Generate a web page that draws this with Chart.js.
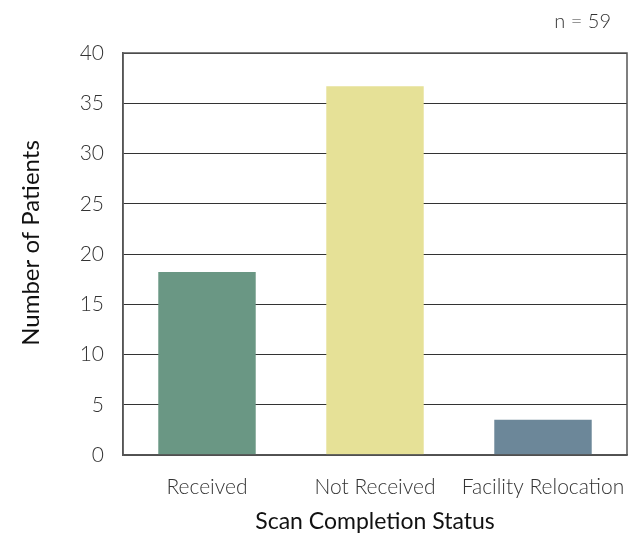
<!DOCTYPE html>
<html>
<head>
<meta charset="utf-8">
<script src="https://cdn.jsdelivr.net/npm/chart.js@4/dist/chart.umd.min.js"></script>
<style>
  html, body { margin: 0; padding: 0; background: #ffffff; }
  #wrap { width: 637px; height: 537px; }
</style>
</head>
<body>
<div id="wrap"><canvas id="c" width="637" height="537"></canvas></div>
<script>
// Scan completion counts by status
const categories = ["Received", "Not Received", "Facility Relocation"];
const patientCounts = [18.2, 36.7, 3.5];
const barColors = ["#6a9784", "#e6e197", "#6c8799"];
const yTicks = [0, 5, 10, 15, 20, 25, 30, 35, 40];
const sampleNote = "n = 59";
const yTitle = "Number of Patients";

const FONT = "Lato, 'Open Sans', sans-serif";

// Frame around the plot area, the y-axis title and the sample size note
const framePlugin = {
  id: "frame",
  afterDatasetsDraw(chart) {
    const { ctx, chartArea: a } = chart;
    ctx.save();
    ctx.strokeStyle = "#555555";
    ctx.lineWidth = 1.5;
    ctx.strokeRect(a.left, a.top, a.right - a.left, a.bottom - a.top);
    ctx.restore();
  },
  afterDraw(chart) {
    const { ctx, chartArea: a } = chart;
    ctx.save();
    ctx.fillStyle = "#333333";
    ctx.font = "300 20px " + FONT;
    ctx.textAlign = "right";
    ctx.textBaseline = "middle";
    ctx.fillText(sampleNote, a.right - 16, a.top - 31);

    ctx.fillStyle = "#111111";
    ctx.font = "400 24px " + FONT;
    ctx.textAlign = "center";
    ctx.translate(31, (a.top + a.bottom) / 2 - 11);
    ctx.rotate(-Math.PI / 2);
    ctx.fillText(yTitle, 0, 0);
    ctx.restore();
  }
};

new Chart(document.getElementById("c"), {
  type: "bar",
  data: {
    labels: categories,
    datasets: [{
      data: patientCounts,
      backgroundColor: barColors,
      borderWidth: 0,
      categoryPercentage: 1.0,
      barPercentage: 0.58
    }]
  },
  options: {
    responsive: false,
    animation: false,
    layout: { padding: { top: 53, right: 10, left: 0, bottom: 0 } },
    plugins: {
      legend: { display: false },
      tooltip: { enabled: false },
      title: { display: false }
    },
    scales: {
      x: {
        grid: { display: false, drawTicks: false },
        border: { display: true, color: "#555555", width: 1.5 },
        ticks: {
          padding: 20,
          color: "#333333",
          font: { family: FONT, size: 21, weight: "300" },
          maxRotation: 0,
          autoSkip: false
        },
        title: {
          display: true,
          text: "Scan Completion Status",
          color: "#111111",
          font: { family: FONT, size: 23 },
          padding: { top: 6, bottom: 2 }
        },
        afterFit(s) {
          s.height = 82;
          s.paddingLeft = 0;
          s.paddingRight = 0;
        }
      },
      y: {
        min: 0,
        max: 40,
        afterBuildTicks(s) { s.ticks = yTicks.map(v => ({ value: v })); },
        grid: { color: "#333333", lineWidth: 1, drawTicks: false },
        border: { display: true, color: "#555555", width: 1.5 },
        ticks: {
          padding: 19,
          color: "#333333",
          font: { family: FONT, size: 21, weight: "300" }
        },
        afterFit(s) {
          s.width = 123;
          s.paddingTop = 0;
          s.paddingBottom = 0;
        }
      }
    }
  },
  plugins: [framePlugin]
});
</script>
</body>
</html>
